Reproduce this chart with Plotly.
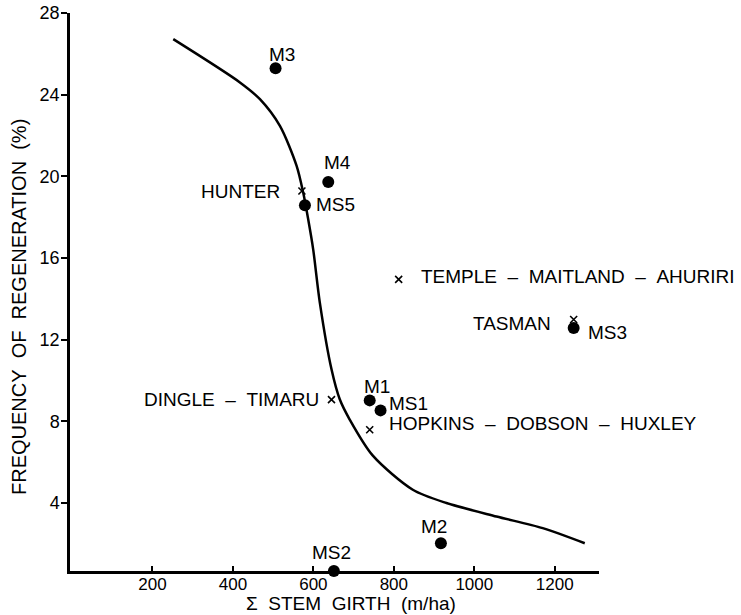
import plotly.graph_objects as go

# Fitted curve
curve_x = [251.7, 417.4, 467.1, 516.8, 558.3, 574.7, 587.1, 599.5, 616.1, 645.2, 665.8, 690.6, 747.8, 847.2, 930.9, 1055.1, 1170.2, 1274.6]
curve_y = [26.72, 24.60, 23.78, 22.47, 20.51, 19.20, 17.89, 16.42, 13.80, 10.53, 9.06, 8.07, 6.31, 4.64, 3.99, 3.33, 2.76, 2.02]

# Dots (plots)
dot_names = ["M3", "M4", "MS5", "MS3", "M1", "MS1", "M2", "MS2"]
dot_x = [506, 637, 579, 1247, 740, 767, 917, 651]
dot_y = [25.29, 19.72, 18.58, 12.57, 9.02, 8.53, 2.02, 0.66]

# Crosses (rivers)
cross_names = ["HUNTER", "TEMPLE – MAITLAND – AHURIRI", "TASMAN", "DINGLE – TIMARU", "HOPKINS – DOBSON – HUXLEY"]
cross_x = [571.5, 812, 1247, 645, 740]
cross_y = [19.28, 14.95, 12.98, 9.06, 7.58]

x_ticks = [200, 400, 600, 800, 1000, 1200]
y_ticks = [4, 8, 12, 16, 20, 24, 28]

x_title = "Σ STEM GIRTH (m/ha)"
y_title = "FREQUENCY OF REGENERATION (%)"

FONT = "Liberation Sans, Arial, sans-serif"
NB = "\u00a0"

# body margin is removed (post_script), so figure pixels == page pixels
W, H = 741, 615
l, r, t, b = 70, 142, 13, 44
pw, ph = W - l - r, H - t - b


def px_to_paper(px, py):
    return (px - l) / pw, (H - b - py) / ph


fig = go.Figure()
fig.add_trace(go.Scatter(x=curve_x, y=curve_y, mode="lines",
                         line=dict(color="black", width=2.5, shape="spline", smoothing=0.8),
                         hoverinfo="skip"))
fig.add_trace(go.Scatter(x=dot_x, y=dot_y, mode="markers",
                         marker=dict(symbol="circle", size=12, color="black"), cliponaxis=False))
fig.add_trace(go.Scatter(x=cross_x, y=cross_y, mode="markers",
                         marker=dict(symbol="x-thin", size=7, color="black",
                                     line=dict(color="black", width=1.6)), cliponaxis=False))

# label offsets (pixels): (xanchor, xshift, yshift)
dot_label_pos = {
    "M3": ("center", 6, 14),
    "M4": ("center", 9, 19),
    "MS5": ("left", 9, 1),
    "MS3": ("left", 12, -5),
    "M1": ("center", 7, 14),
    "MS1": ("left", 6, 7),
    "M2": ("center", -7, 17),
    "MS2": ("center", -2, 19),
}
cross_label_pos = {
    "HUNTER": ("right", -20, -1),
    "TEMPLE – MAITLAND – AHURIRI": ("left", 20, 3),
    "TASMAN": ("right", -21, -4),
    "DINGLE – TIMARU": ("right", -10, 0),
    "HOPKINS – DOBSON – HUXLEY": ("left", 17, 6),
}


def spaced(txt):
    return txt.replace(" – ", NB + NB + "–" + NB + NB)


anns = []
for n, x, y in zip(dot_names, dot_x, dot_y):
    a, xs, ys = dot_label_pos[n]
    anns.append(dict(x=x, y=y, text=n, showarrow=False, xanchor=a, yanchor="middle",
                     xshift=xs, yshift=ys, font=dict(size=19, color="black", family=FONT)))
for n, x, y in zip(cross_names, cross_x, cross_y):
    a, xs, ys = cross_label_pos[n]
    anns.append(dict(x=x, y=y, text=spaced(n), showarrow=False, xanchor=a, yanchor="middle",
                     xshift=xs, yshift=ys, font=dict(size=19, color="black", family=FONT)))

# axis titles as annotations (placed as in the reference)
xt_x, xt_y = px_to_paper(351, 603)
anns.append(dict(x=xt_x, y=xt_y, xref="paper", yref="paper",
                 text=x_title.replace(" ", NB + " "),
                 showarrow=False, xanchor="center", yanchor="middle",
                 font=dict(size=19, color="black", family=FONT)))
yt_x, yt_y = px_to_paper(19, 307)
anns.append(dict(x=yt_x, y=yt_y, xref="paper", yref="paper",
                 text=y_title.replace(" ", NB + " "), textangle=-90,
                 showarrow=False, xanchor="center", yanchor="middle",
                 font=dict(size=20, color="black", family=FONT)))

fig.update_layout(
    width=W, height=H,
    margin=dict(l=l, r=r, t=t, b=b, autoexpand=False),
    plot_bgcolor="white", paper_bgcolor="white",
    showlegend=False,
    font=dict(family=FONT, color="black", size=18),
    annotations=anns,
    xaxis=dict(range=[-5, 1310], tickvals=x_ticks, ticks="inside", ticklen=5, tickwidth=1.5,
               tickcolor="black", showline=True, linecolor="black", linewidth=2.5,
               showgrid=False, zeroline=False, automargin=False, ticklabelstandoff=-4,
               ticklabeloverflow="allow", tickfont=dict(size=17, family=FONT)),
    yaxis=dict(range=[0.66, 28], tickvals=y_ticks, ticks="outside", ticklen=6, tickwidth=1.5,
               tickcolor="black", showline=True, linecolor="black", linewidth=2.5,
               showgrid=False, zeroline=False, automargin=False, ticklabelstandoff=-2,
               ticklabeloverflow="allow", tickfont=dict(size=18, family=FONT)),
)

fig.write_html("out.html", config={"displayModeBar": False},
               post_script="document.body.style.margin='0';")
